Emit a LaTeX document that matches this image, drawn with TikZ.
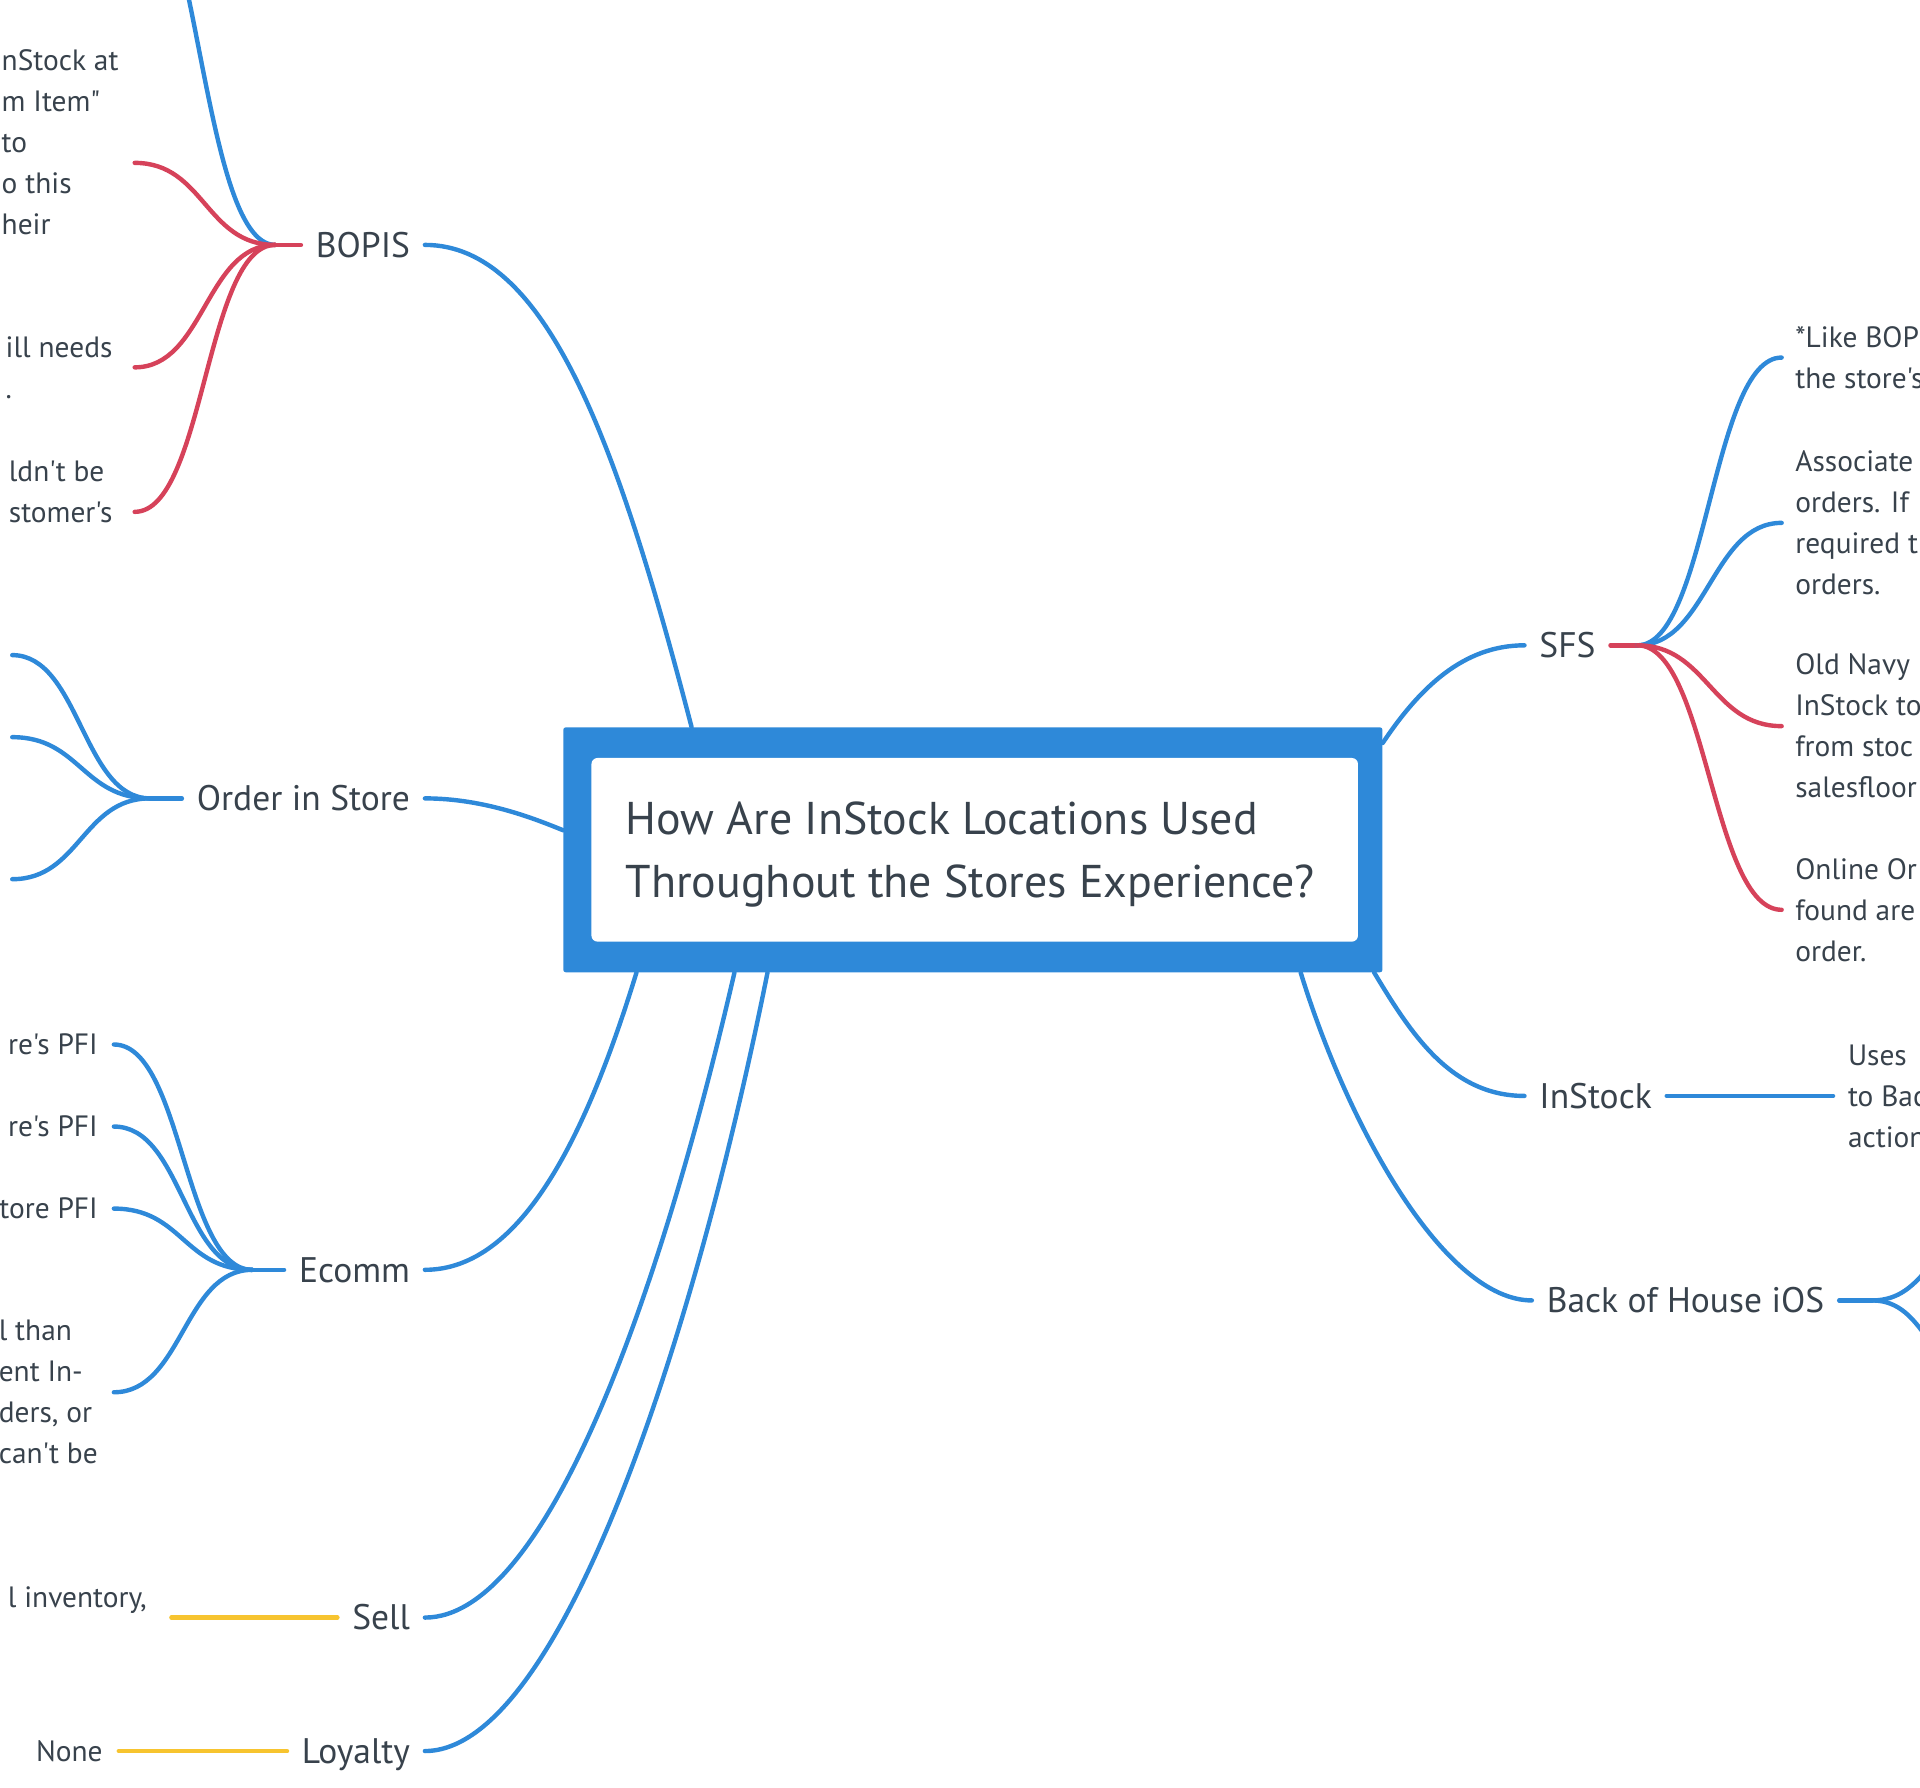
\documentclass[tikz,border=0pt]{standalone}
\usepackage{fontspec}
\setmainfont{PT Sans}[Ligatures=TeXOff]
\usetikzlibrary{positioning}
\definecolor{mmblue}{HTML}{2E89D9}
\definecolor{mmred}{HTML}{D6425A}
\definecolor{mmyellow}{HTML}{F7C42F}
\definecolor{mmtext}{HTML}{38424C}

\tikzset{
  branch/.style={line width=3.6pt, mmblue, line cap=round},
  twig/.style={line width=3.6pt, line cap=round},
  topic/.style={text=mmtext, font=\fontsize{29}{34}\selectfont, inner xsep=12pt, inner ysep=4pt, text height=24pt, text depth=4pt},
  note/.style={text=mmtext, font=\fontsize{24}{33.5}\selectfont, inner xsep=13pt, inner ysep=0pt},
  lnote/.style={note, anchor=east, align=left},
  rnote/.style={note, anchor=west, align=left},
}

\begin{document}
\begin{tikzpicture}[x=1pt,y=-1pt]
\useasboundingbox (0,0) rectangle (1568,1460);

\node[fill=mmblue, rounded corners=2pt, minimum width=669pt, minimum height=200pt, inner sep=0pt] (root) at (794.5,694) {};
\node[fill=white, rounded corners=5pt, minimum width=626pt, minimum height=150pt, inner sep=0pt, text=mmtext] (title) at (796,694) {};
\node[anchor=west, align=left, inner sep=0pt, text=mmtext, font=\fontsize{37.5}{51}\selectfont] (question) at ([xshift=28pt, yshift=-4pt]title.west) {How Are InStock Locations Used\\Throughout the Stores Experience?};

\node[topic, anchor=east] (bopis) at (347,200) {BOPIS};
\node[topic, anchor=east] (order) at (347,652) {Order in Store};
\node[topic, anchor=east] (ecomm) at (347,1037) {Ecomm};
\node[topic, anchor=east] (sell) at (347,1321) {Sell};
\node[topic, anchor=east] (loyal) at (347,1430) {Loyalty};
\node[topic, anchor=west] (sfs) at (1245,527) {SFS};
\node[topic, anchor=west] (instock) at (1245,895) {InStock};
\node[topic, anchor=west] (boh) at (1251,1062) {Back of House iOS};

\coordinate (bj) at ([xshift=-21pt]bopis.west);
\coordinate (b0) at (100,-120);
\node[lnote] (b1) at (110,133) {nStock at\\m Item"\\to\\o this\\heir\\\mbox{}};
\node[lnote, inner xsep=18pt] (b2) at (110,300) {ill needs\\.};
\node[lnote, inner xsep=18pt] (b3) at (110,418) {ldn't be\\stomer's\\\mbox{}};

\coordinate (oj) at ([xshift=-26pt]order.west);
\coordinate (o1) at (10,535);
\coordinate (o2) at (10,602);
\coordinate (o3) at (10,718);

\coordinate (ej) at ([xshift=-26pt]ecomm.west);
\node[lnote] (e1) at (93,853) {re's PFI};
\node[lnote] (e2) at (93,920) {re's PFI};
\node[lnote] (e3) at (93,987) {tore PFI};
\node[lnote] (e4) at (93,1137) {l than\\ent In-\\ders, or\\can't be};

\node[lnote, inner xsep=20pt] (s1) at (140,1321) {l inventory,\\\mbox{}};
\node[lnote] (l1) at (97,1430) {None};

\coordinate (sj) at ([xshift=22pt]sfs.east);
\node[rnote, inner xsep=11pt] (f1) at (1455,292) {*Like BOP\\the store's};
\node[rnote, inner xsep=11pt] (f2) at (1455,427) {Associate\\orders. If\\required t\\orders.};
\node[rnote, inner xsep=11pt] (f3) at (1455,593) {Old Navy\\InStock to\\from stoc\\salesfloor};
\node[rnote, inner xsep=11pt] (f4) at (1455,743) {Online Or\\found are\\order.};

\node[rnote, inner xsep=12pt] (i1) at (1497,895) {Uses\\to Bac\\action};

\coordinate (hj) at ([xshift=27pt]boh.east);
\coordinate (h1) at (1620,1010);
\coordinate (h2) at (1620,1125);

% main branches
\draw[branch] (bopis.east) .. controls +(100,0) and +(-60,-230) .. ([xshift=105pt]root.north west);
\draw[branch] (order.east) .. controls +(50,0) and +(-20,-8) .. ([yshift=16pt]root.west);
\draw[branch] (ecomm.east) .. controls +(80,0) and +(-40,130) .. ([xshift=60pt]root.south west);
\draw[branch] (sell.east) .. controls +(100,0) and +(-60,260) .. ([xshift=140pt]root.south west);
\draw[branch] (loyal.east) .. controls +(110,0) and +(-60,300) .. ([xshift=167pt]root.south west);
\draw[branch] ([yshift=-13pt]root.north east) .. controls +(30,-45) and +(-50,0) .. (sfs.west);
\draw[branch] ([xshift=-7pt]root.south east) .. controls +(30,50) and +(-60,0) .. (instock.west);
\draw[branch] ([xshift=-67pt]root.south east) .. controls +(40,130) and +(-70,0) .. (boh.west);

% BOPIS
\draw[twig, mmblue] (bj) .. controls +(-62,0) and +(62,0) .. (b0);
\draw[twig, mmred] (bopis.west) -- (bj);
\draw[twig, mmred] (bj) .. controls +(-57,0) and +(57,0) .. (b1.east);
\draw[twig, mmred] (bj) .. controls +(-57,0) and +(57,0) .. (b2.east);
\draw[twig, mmred] (bj) .. controls +(-57,0) and +(57,0) .. (b3.east);

% Order in Store
\draw[twig, mmblue] (order.west) -- (oj);
\draw[twig, mmblue] (oj) .. controls +(-55,0) and +(55,0) .. (o1);
\draw[twig, mmblue] (oj) .. controls +(-55,0) and +(55,0) .. (o2);
\draw[twig, mmblue] (oj) .. controls +(-55,0) and +(55,0) .. (o3);

% Ecomm
\draw[twig, mmblue] (ecomm.west) -- (ej);
\draw[twig, mmblue] (ej) .. controls +(-56,0) and +(56,0) .. (e1.east);
\draw[twig, mmblue] (ej) .. controls +(-56,0) and +(56,0) .. (e2.east);
\draw[twig, mmblue] (ej) .. controls +(-56,0) and +(56,0) .. (e3.east);
\draw[twig, mmblue] (ej) .. controls +(-56,0) and +(56,0) .. (e4.east);

\draw[twig, mmyellow] (sell.west) -- (s1.east);
\draw[twig, mmyellow] (loyal.west) -- (l1.east);

% SFS
\draw[twig, mmred] (sfs.east) -- (sj);
\draw[twig, mmblue] (sj) .. controls +(57,0) and +(-57,0) .. (f1.west);
\draw[twig, mmblue] (sj) .. controls +(57,0) and +(-57,0) .. (f2.west);
\draw[twig, mmred] (sj) .. controls +(57,0) and +(-57,0) .. (f3.west);
\draw[twig, mmred] (sj) .. controls +(57,0) and +(-57,0) .. (f4.west);

\draw[twig, mmblue] (instock.east) -- (i1.west);

% Back of House iOS
\draw[twig, mmblue] (boh.east) -- (hj);
\draw[twig, mmblue] (hj) .. controls +(45,0) and +(-45,0) .. (h1);
\draw[twig, mmblue] (hj) .. controls +(45,0) and +(-45,0) .. (h2);
\end{tikzpicture}
\end{document}
